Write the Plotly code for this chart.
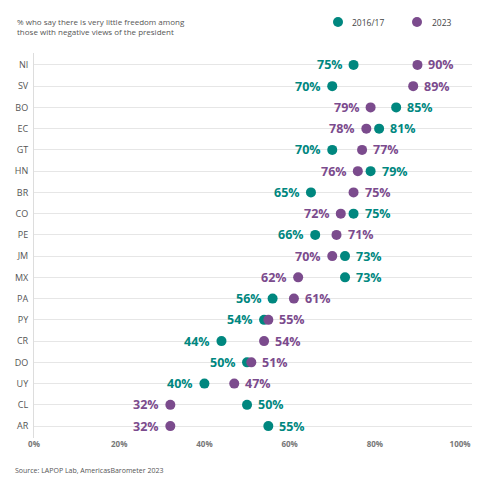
import plotly.graph_objects as go

countries = ["NI","SV","BO","EC","GT","HN","BR","CO","PE","JM","MX","PA","PY","CR","DO","UY","CL","AR"]
v2016 = [75,70,85,81,70,79,65,75,66,73,73,56,54,44,50,40,50,55]
v2023 = [90,89,79,78,77,76,75,72,71,70,62,61,55,54,51,47,32,32]
series_names = ["2016/17", "2023"]
tick_vals = [0, 20, 40, 60, 80, 100]
tick_text = ["0%", "20%", "40%", "60%", "80%", "100%"]

TEAL = "#00877F"
PURPLE = "#7B4B8D"
FONT = "Open Sans"

fig = go.Figure()
fig.add_trace(go.Scatter(x=v2016, y=countries, mode="markers", name=series_names[0],
                         marker=dict(color=TEAL, size=10), showlegend=False, hoverinfo="skip"))
fig.add_trace(go.Scatter(x=v2023, y=countries, mode="markers", name=series_names[1],
                         marker=dict(color=PURPLE, size=10), showlegend=False, hoverinfo="skip"))

annotations = []
for c, a, b in zip(countries, v2016, v2023):
    for val, col, other in ((a, TEAL, b), (b, PURPLE, a)):
        left = val < other or (val == other and col == TEAL)
        annotations.append(dict(
            x=val, y=c, xref="x", yref="y", text=f"{val}%", showarrow=False,
            xanchor="right" if left else "left", xshift=-9 if left else 9,
            font=dict(family=FONT, size=12.5, color=col, weight="bold")))

annotations += [
    dict(x=15, y=481 - 27, xref="paper", yref="paper", xanchor="left", yanchor="middle",
         text="% who say there is very little freedom among<br>those with negative views of the president",
         showarrow=False, align="left", font=dict(family=FONT, size=8, color="#555")),
    dict(text="Source: LAPOP Lab, AmericasBarometer 2023", x=13, y=481 - 470, xref="paper", yref="paper",
         xanchor="left", yanchor="middle", showarrow=False, font=dict(family=FONT, size=7, color="#555")),
    dict(text=series_names[0], x=350, y=481 - 22, xref="paper", yref="paper", xanchor="left",
         yanchor="middle", showarrow=False, font=dict(family=FONT, size=8.5, color="#444")),
    dict(text=series_names[1], x=430, y=481 - 22, xref="paper", yref="paper", xanchor="left",
         yanchor="middle", showarrow=False, font=dict(family=FONT, size=8.5, color="#444")),
]

# convert pixel coords to paper fractions for layout-level items
W, H = 482, 481
ML, MR, MT, MB = 34, 10, 53, 43
pw, ph = W - ML - MR, H - MT - MB
for an in annotations:
    if an.get("xref") == "paper":
        an["x"] = (an["x"] - ML) / pw
        an["y"] = (an["y"] - MB) / ph

shapes = []
for cx, col in ((338, TEAL), (417, PURPLE)):
    px = (cx - ML) / pw
    py = (H - 22 - MB) / ph
    shapes.append(dict(type="circle", xref="paper", yref="paper",
                       x0=px - 5 / pw, x1=px + 5 / pw, y0=py - 5 / ph, y1=py + 5 / ph,
                       fillcolor=col, line=dict(width=0)))

fig.update_layout(
    width=W, height=H,
    margin=dict(l=ML, r=MR, t=MT, b=MB, pad=0),
    paper_bgcolor="white", plot_bgcolor="white",
    annotations=annotations, shapes=shapes,
    xaxis=dict(range=[0, 102.8], tickvals=tick_vals, ticktext=tick_text, showgrid=False,
               zeroline=False, showline=False, ticks="",
               tickfont=dict(family=FONT, size=8, color="#777", weight="bold")),
    yaxis=dict(categoryorder="array", categoryarray=countries, range=[17.56, -0.56],
               showgrid=True, gridcolor="#E6E6E6", gridwidth=1, zeroline=False,
               showline=True, linecolor="#DDDDDD", linewidth=1, ticks="", ticklabelstandoff=3,
               tickfont=dict(family=FONT, size=9, color="#555")),
)

fig.write_html("out.html", config={"displayModeBar": False},
               post_script="document.body.style.margin='0';document.body.style.padding='0';")
